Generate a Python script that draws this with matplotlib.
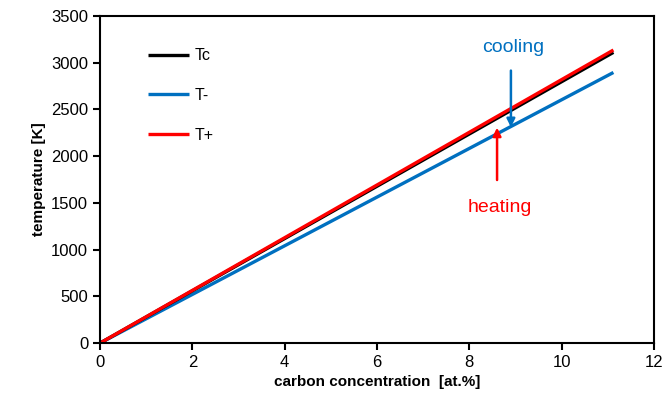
import matplotlib
matplotlib.use("Agg")
import matplotlib.pyplot as plt

# Dane
conc = [0, 11.12]          # carbon concentration [at.%]
t_c = [0, 3110]            # Tc
t_minus = [0, 2895]        # T-
t_plus = [0, 3135]         # T+

xticks = [0, 2, 4, 6, 8, 10, 12]
yticks = [0, 500, 1000, 1500, 2000, 2500, 3000, 3500]

plt.rcParams['font.family'] = ['Liberation Sans', 'DejaVu Sans']

fig = plt.figure(figsize=(6.64, 4.08), dpi=100)
ax = fig.add_axes([0.1506, 0.159, 0.8344, 0.802])

blue = '#0070C0'
red = '#FF0000'

ax.plot(conc, t_minus, color=blue, lw=2.4, label='T-', solid_capstyle='butt')
ax.plot(conc, t_c, color='black', lw=2.4, label='Tc', solid_capstyle='butt')
ax.plot(conc, t_plus, color=red, lw=2.4, label='T+', solid_capstyle='butt')

# strzalki
ax.annotate('', xy=(8.9, 2280), xytext=(8.9, 2945),
            arrowprops=dict(arrowstyle='-|>', color=blue, lw=1.8, mutation_scale=12))
ax.text(8.95, 3160, 'cooling', color=blue, fontsize=14, ha='center', va='center')
ax.annotate('', xy=(8.6, 2335), xytext=(8.6, 1715),
            arrowprops=dict(arrowstyle='-|>', color=red, lw=1.8, mutation_scale=12))
ax.text(8.66, 1450, 'heating', color=red, fontsize=14, ha='center', va='center')

# legenda
h, l = ax.get_legend_handles_labels()
order = [1, 0, 2]
ax.legend([h[i] for i in order], [l[i] for i in order], loc='upper left',
          bbox_to_anchor=(0.06, 0.945), frameon=False, fontsize=11.5,
          handlelength=2.6, labelspacing=1.55, handletextpad=0.35)

ax.set_xlim(0, 12)
ax.set_ylim(0, 3500)
ax.set_xticks(xticks)
ax.set_yticks(yticks)
ax.tick_params(labelsize=12, width=1.5, length=5, direction='out')
for s in ax.spines.values():
    s.set_linewidth(1.5)

ax.set_xlabel('carbon concentration  [at.%]', fontsize=11, fontweight='bold')
ax.set_ylabel('temperature [K]', fontsize=11, fontweight='bold')

fig.savefig('out.png', dpi=100)
